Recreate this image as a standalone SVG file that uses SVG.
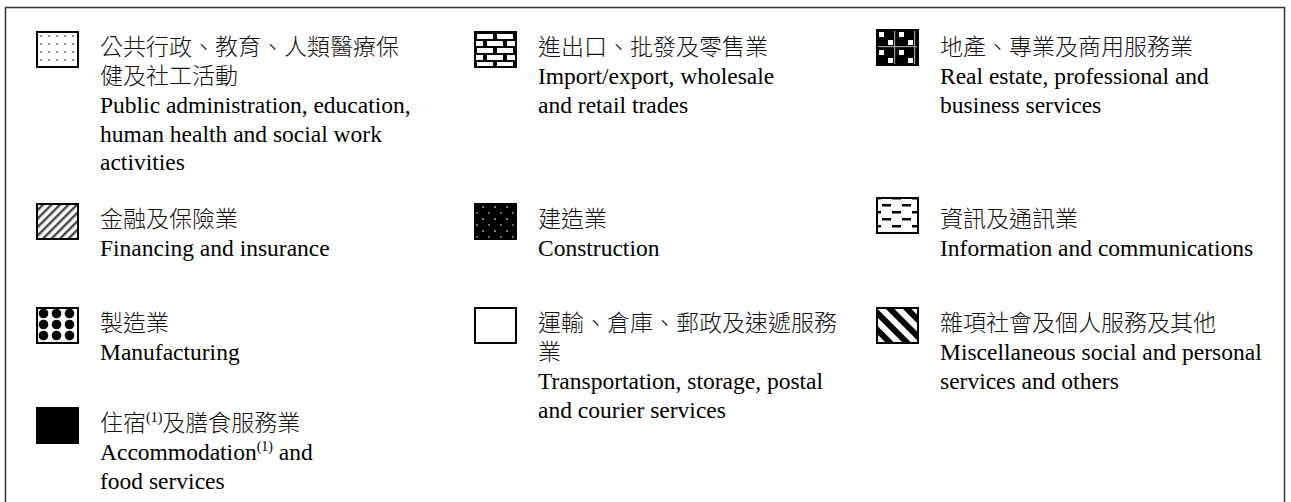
<svg xmlns="http://www.w3.org/2000/svg" width="1291" height="502" viewBox="0 0 1291 502">
<style>
.t{font-family:"Liberation Serif","Noto Sans CJK TC",serif;font-size:23.5px;fill:#000}
.c{font-family:"Noto Sans CJK TC",sans-serif;font-size:23px;font-weight:300;fill:#111}
.sw{stroke:#000;stroke-width:2}
.sup{font-size:14px}
</style>
<defs>
<pattern id="pDots" width="8" height="8" patternUnits="userSpaceOnUse" x="37" y="32">
<rect width="8" height="8" fill="#fff"/>
<circle cx="4" cy="4" r="1.1" fill="#777"/>
</pattern>
<pattern id="pDiag" width="6" height="6" patternUnits="userSpaceOnUse" patternTransform="rotate(45)">
<rect width="6" height="6" fill="#fff"/>
<rect width="2.4" height="6" fill="#444"/>
</pattern>
<pattern id="pMan" width="13" height="11" patternUnits="userSpaceOnUse" x="37" y="308">
<rect width="13" height="11" fill="#fff"/>
<circle cx="6.5" cy="5.5" r="4.8" fill="#000"/>
</pattern>
<pattern id="pBrick" width="20" height="14" patternUnits="userSpaceOnUse" x="475" y="32">
<rect width="20" height="14" fill="#000"/>
<rect x="2" y="2" width="16" height="5" fill="#fff"/>
<rect x="-8" y="9" width="16" height="5" fill="#fff"/>
<rect x="12" y="9" width="16" height="5" fill="#fff"/>
</pattern>
<pattern id="pCon" width="12" height="12" patternUnits="userSpaceOnUse">
<rect width="12" height="12" fill="#000"/>
<circle cx="3" cy="3" r="1" fill="#aaa"/>
<circle cx="9" cy="9" r="1" fill="#888"/>
</pattern>
<pattern id="pReal" width="20" height="18" patternUnits="userSpaceOnUse" x="877" y="30">
<rect width="20" height="18" fill="#000"/>
<rect x="2" y="2" width="5" height="5" fill="#fff"/>
<rect x="11" y="10" width="5" height="5" fill="#fff"/>
<rect x="17" y="0" width="1.2" height="18" fill="#999"/>
<rect x="0" y="16" width="20" height="1.2" fill="#999"/>
</pattern>
<pattern id="pInfo" width="20" height="14" patternUnits="userSpaceOnUse" x="877" y="200">
<rect width="20" height="14" fill="#fff"/>
<rect x="5" y="4" width="9" height="2.5" fill="#000"/>
<rect x="15" y="11" width="9" height="2.5" fill="#000"/>
<rect x="-5" y="11" width="9" height="2.5" fill="#000"/>
</pattern>
<pattern id="pMisc" width="12" height="12" patternUnits="userSpaceOnUse" patternTransform="rotate(-45)">
<rect width="12" height="12" fill="#fff"/>
<rect width="6" height="12" fill="#000"/>
</pattern>
</defs>
<path d="M5.5,502 V7.5 H1284.5 V502" fill="none" stroke="#333" stroke-width="1.5"/>
<g id="connectors"></g>
<g id="n-public">
<rect class="sw" x="37" y="32" width="41" height="35" fill="url(#pDots)"/>
<text class="c" x="100" y="55">公共行政、教育、人類醫療保</text>
<text class="c" x="100" y="84">健及社工活動</text>
<text class="t" x="100" y="113">Public administration, education,</text>
<text class="t" x="100" y="142">human health and social work</text>
<text class="t" x="100" y="170">activities</text>
</g>
<g id="n-finance">
<rect class="sw" x="37" y="204" width="41" height="35" fill="url(#pDiag)"/>
<text class="c" x="100" y="227">金融及保險業</text>
<text class="t" x="100" y="256">Financing and insurance</text>
</g>
<g id="n-manuf">
<rect class="sw" x="37" y="308" width="41" height="35" fill="url(#pMan)"/>
<text class="c" x="100" y="331">製造業</text>
<text class="t" x="100" y="360">Manufacturing</text>
</g>
<g id="n-accom">
<rect class="sw" x="37" y="408" width="41" height="35" fill="#000"/>
<text class="c" x="100" y="431">住宿<tspan class="t sup" dy="-9">(1)</tspan><tspan dy="9">及膳食服務業</tspan></text>
<text class="t" x="100" y="460">Accommodation<tspan class="sup" dy="-9">(1)</tspan><tspan dy="9"> and</tspan></text>
<text class="t" x="100" y="489">food services</text>
</g>
<g id="n-trade">
<rect class="sw" x="475" y="32" width="41" height="35" fill="url(#pBrick)"/>
<text class="c" x="538" y="55">進出口、批發及零售業</text>
<text class="t" x="538" y="84">Import/export, wholesale</text>
<text class="t" x="538" y="113">and retail trades</text>
</g>
<g id="n-constr">
<rect class="sw" x="475" y="204" width="41" height="35" fill="url(#pCon)"/>
<text class="c" x="538" y="227">建造業</text>
<text class="t" x="538" y="256">Construction</text>
</g>
<g id="n-transport">
<rect class="sw" x="475" y="308" width="41" height="35" fill="#fff"/>
<text class="c" x="538" y="331">運輸、倉庫、郵政及速遞服務</text>
<text class="c" x="538" y="360">業</text>
<text class="t" x="538" y="389">Transportation, storage, postal</text>
<text class="t" x="538" y="418">and courier services</text>
</g>
<g id="n-realestate">
<rect class="sw" x="877" y="30" width="41" height="35" fill="url(#pReal)"/>
<text class="c" x="940" y="55">地產、專業及商用服務業</text>
<text class="t" x="940" y="84">Real estate, professional and</text>
<text class="t" x="940" y="113">business services</text>
</g>
<g id="n-info">
<rect class="sw" x="877" y="198" width="41" height="35" fill="url(#pInfo)"/>
<text class="c" x="940" y="227">資訊及通訊業</text>
<text class="t" x="940" y="256">Information and communications</text>
</g>
<g id="n-misc">
<rect class="sw" x="877" y="308" width="41" height="35" fill="url(#pMisc)"/>
<text class="c" x="940" y="331">雜項社會及個人服務及其他</text>
<text class="t" x="940" y="360">Miscellaneous social and personal</text>
<text class="t" x="940" y="389">services and others</text>
</g>
</svg>
